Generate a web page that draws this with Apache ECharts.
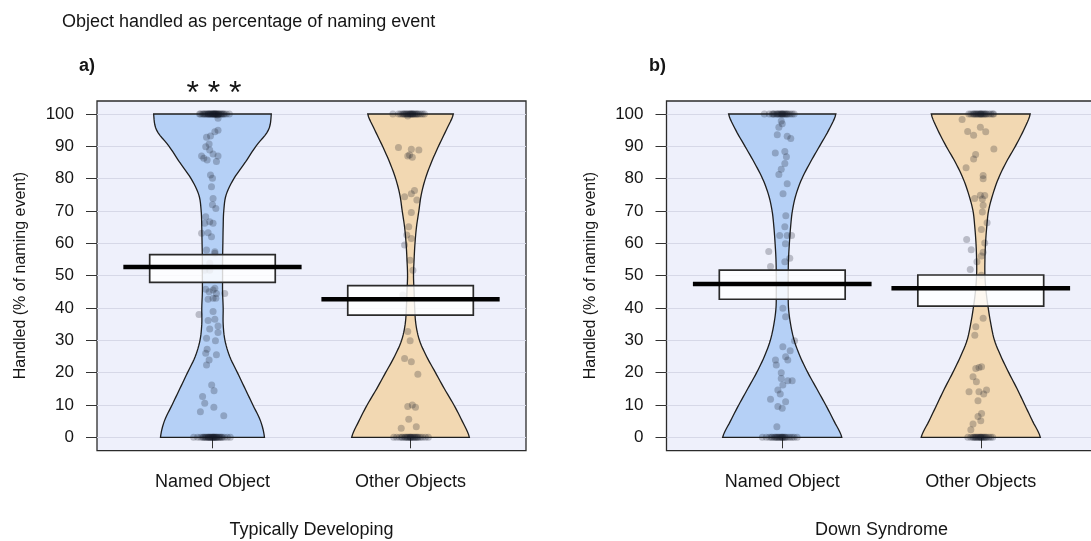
<!DOCTYPE html>
<html>
<head>
<meta charset="utf-8">
<title>Object handled as percentage of naming event</title>
<script src="https://cdn.jsdelivr.net/npm/echarts@6/dist/echarts.min.js"></script>
<style>
  html, body { margin: 0; padding: 0; background: #ffffff; }
  #chart { width: 1091px; height: 541px; }
</style>
</head>
<body>
<div id="chart"></div>
<script>
// ---- data ----------------------------------------------------------------
const categories = ['Named Object', 'Other Objects'];
const categoryPositions = [1, 2];
const groupNames = ['Typically Developing', 'Down Syndrome'];
const panelTags = ['a)', 'b)'];
const significance = '* * *';
const yTicks = [0, 10, 20, 30, 40, 50, 60, 70, 80, 90, 100];

// bean density profiles (1 = widest point), sampled every 5 percentage points
const densityLevels = [0, 5, 10, 15, 20, 25, 30, 35, 40, 45, 50, 55, 60, 65, 70, 75, 80, 85, 90, 95, 100];
const tdNamedDensity = [0.875, 0.81, 0.68, 0.55, 0.42, 0.29, 0.21, 0.18, 0.18, 0.17, 0.17, 0.17, 0.175, 0.18, 0.19, 0.23, 0.36, 0.55, 0.73, 0.94, 0.99];
const tdOtherDensity = [0.99, 0.87, 0.73, 0.57, 0.42, 0.27, 0.15, 0.09, 0.07, 0.06, 0.05, 0.06, 0.075, 0.10, 0.14, 0.18, 0.25, 0.35, 0.47, 0.60, 0.72];
const dsNamedDensity = [1.0, 0.87, 0.73, 0.58, 0.43, 0.30, 0.20, 0.14, 0.105, 0.10, 0.10, 0.105, 0.12, 0.14, 0.17, 0.23, 0.33, 0.47, 0.625, 0.78, 0.90];
const dsOtherDensity = [1.0, 0.87, 0.74, 0.61, 0.47, 0.34, 0.23, 0.17, 0.125, 0.09, 0.07, 0.07, 0.08, 0.10, 0.13, 0.20, 0.295, 0.425, 0.58, 0.72, 0.83];

// means and 95% inference bands [lower, upper]
const tdNamedMean = 52.7, tdNamedBand = [47.9, 56.5];
const tdOtherMean = 42.7, tdOtherBand = [37.8, 46.9];
const dsNamedMean = 47.4, dsNamedBand = [42.7, 51.7];
const dsOtherMean = 46.1, dsOtherBand = [40.6, 50.2];

// individual children: [percentage handled, horizontal jitter]
const tdNamedPoints = [
  [99.7, 0.025], [98.7, 0.028], [95, 0.028], [94.5, 0.012], [92.8, -0.03], [93.2, -0.01], [90.7, -0.017],
  [89.9, -0.034], [88.9, -0.014], [87, -0.055], [86.3, -0.044], [85.8, -0.027], [87.6, 0.003], [87, 0.028],
  [85.3, 0.02], [81.1, -0.01], [80.1, 0], [77.5, -0.005], [73.9, 0.003], [71.9, 0], [70.8, 0.017],
  [68.2, -0.034], [66.7, -0.014], [66.2, -0.039], [66.2, 0.003], [63.1, -0.055], [63.3, -0.022], [62, -0.005],
  [57.9, -0.03], [57.4, 0.012], [56.9, 0.012], [53.8, -0.014], [51.7, -0.039], [51.7, -0.014], [46.1, 0.012],
  [45.8, -0.034], [45.6, 0.003], [45, -0.017], [44.5, 0.02], [44.5, 0.062], [43, 0.003], [42.7, -0.022],
  [43, 0.017], [38.9, 0.003], [38, -0.068], [36.1, -0.022], [36.5, 0.012], [34.4, 0.028], [33.5, -0.014],
  [32.4, 0.028], [30.6, -0.03], [29.9, 0.015], [27.2, -0.027], [26, -0.034], [25.5, 0.02], [23.9, -0.017],
  [22.4, -0.03], [16.2, -0.004], [14.4, 0.008], [12.6, -0.05], [10.5, -0.039], [9.3, 0.007], [7.9, -0.061],
  [6.7, 0.057]
];
const tdOtherPoints = [
  [99.4, -0.014], [89.6, -0.061], [89.1, 0.004], [88.9, 0.042], [87.3, -0.005], [86.6, 0.009], [87, -0.014],
  [76.3, 0.02], [75.3, 0.004], [74.4, -0.03], [73.4, 0.032], [69.5, 0.004], [65.1, -0.009], [62.6, -0.019],
  [61.5, 0.004], [59.5, -0.03], [54.8, -0.002], [51.7, 0.012], [44, -0.039], [32.7, -0.014], [29.9, -0.002],
  [24.4, -0.03], [23.4, 0.004], [19.5, 0.037], [9.5, -0.014], [10, 0.009], [9.3, 0.025], [5.6, -0.009],
  [2.8, -0.047], [3.3, 0.029]
];
const dsNamedPoints = [
  [97.8, -0.005], [97, 0], [95.9, -0.017], [93.6, -0.025], [93.1, 0.025], [92.4, 0.043], [87.9, -0.035],
  [88.4, 0.013], [86.8, 0.021], [84.7, 0.013], [82.9, -0.005], [81.3, -0.017], [78.4, 0.025], [75.3, 0.004],
  [68.5, 0.018], [65.1, 0.013], [62.4, -0.013], [62.4, 0.025], [62.4, 0.047], [59.9, 0.016], [57.5, -0.068],
  [55.4, 0.038], [54.3, 0.013], [52.8, -0.059], [39.9, 0.003], [37.3, 0.017], [29.9, 0.062], [28, 0.003],
  [26.8, 0.04], [24.9, 0.017], [23.9, 0.028], [23.9, -0.034], [22.4, -0.03], [20, -0.005], [17.5, 0.028],
  [17.5, 0.05], [18.2, -0.005], [16.2, 0.003], [14.6, -0.022], [13.4, -0.01], [11.8, -0.059], [11, 0.017],
  [9.5, -0.022], [9, 0], [3.3, -0.027]
];
const dsOtherPoints = [
  [98.3, -0.094], [94.6, -0.066], [93.4, -0.036], [95.9, -0.002], [94.5, 0.025], [89.2, 0.066], [87.5, -0.026],
  [86.1, -0.036], [83.4, -0.074], [81, 0.012], [80, 0.012], [73.9, -0.031], [74.9, -0.002], [74.8, 0.02],
  [73.7, 0.008], [71.8, 0.012], [69.7, 0.008], [66.4, 0.032], [64.3, 0.003], [61.2, -0.071], [60.1, 0.02],
  [58, -0.048], [57.2, 0.012], [56.1, 0.003], [54.3, -0.019], [51.9, -0.053], [50.1, 0.003], [36.8, 0.012],
  [34.2, -0.025], [31.6, -0.03], [21.3, -0.025], [21.6, -0.009], [21.8, 0.004], [18.7, -0.039], [17.2, -0.022],
  [14.1, -0.059], [14.1, -0.009], [14.6, 0.029], [13.4, 0.015], [11.3, -0.014], [7.4, 0.004], [6.4, -0.014],
  [5.1, 0], [4.1, -0.039], [2.3, -0.05]
];

// children at exactly 100% and 0%: horizontal jitter of each
const tdNamedAt100 = [-0.065, -0.06, -0.05, -0.045, -0.04, -0.035, -0.03, -0.025, -0.02, -0.02, -0.015, -0.01, -0.01, -0.005, 0, 0, 0.005, 0.005, 0.01, 0.01, 0.015, 0.015, 0.02, 0.02, 0.025, 0.03, 0.03, 0.035, 0.04, 0.045, 0.05, 0.055, 0.06, 0.07, 0.085];
const tdNamedAt0 = [-0.095, -0.075, -0.06, -0.05, -0.045, -0.04, -0.035, -0.03, -0.025, -0.02, -0.02, -0.015, -0.01, -0.01, -0.005, 0, 0, 0.005, 0.005, 0.01, 0.01, 0.015, 0.02, 0.02, 0.025, 0.03, 0.035, 0.04, 0.045, 0.05, 0.06, 0.075, 0.09];
const tdOtherAt100 = [-0.089, -0.06, -0.05, -0.04, -0.035, -0.03, -0.025, -0.02, -0.015, -0.01, -0.005, 0, 0, 0.005, 0.01, 0.01, 0.015, 0.02, 0.025, 0.03, 0.035, 0.04, 0.05, 0.06, 0.07];
const tdOtherAt0 = [-0.085, -0.07, -0.055, -0.045, -0.04, -0.03, -0.025, -0.02, -0.015, -0.01, -0.005, 0, 0, 0.005, 0.01, 0.015, 0.02, 0.025, 0.03, 0.035, 0.04, 0.05, 0.06, 0.075, 0.09];
const dsNamedAt100 = [-0.09, -0.065, -0.05, -0.045, -0.04, -0.03, -0.025, -0.02, -0.015, -0.01, -0.005, 0, 0, 0.005, 0.01, 0.015, 0.02, 0.025, 0.03, 0.04, 0.05, 0.06];
const dsNamedAt0 = [-0.1, -0.08, -0.065, -0.055, -0.05, -0.04, -0.035, -0.03, -0.025, -0.02, -0.015, -0.01, -0.005, 0, 0, 0.005, 0.01, 0.015, 0.02, 0.03, 0.04, 0.05, 0.06, 0.075];
const dsOtherAt100 = [-0.06, -0.05, -0.04, -0.035, -0.03, -0.025, -0.02, -0.015, -0.01, -0.005, 0, 0, 0.005, 0.01, 0.015, 0.02, 0.025, 0.03, 0.04, 0.05, 0.06, 0.065];
const dsOtherAt0 = [-0.065, -0.05, -0.04, -0.035, -0.03, -0.025, -0.02, -0.015, -0.01, -0.005, 0, 0, 0.005, 0.01, 0.015, 0.02, 0.025, 0.03, 0.04, 0.05, 0.06];

// ---- assembly --------------------------------------------------------------
function bean(density, points, at100, at0, mean, band) {
  return {
    density: density,
    points: points.concat(at100.map(j => [100, j]), at0.map(j => [0, j])),
    mean: mean,
    band: band
  };
}
const panels = [
  [bean(tdNamedDensity, tdNamedPoints, tdNamedAt100, tdNamedAt0, tdNamedMean, tdNamedBand),
   bean(tdOtherDensity, tdOtherPoints, tdOtherAt100, tdOtherAt0, tdOtherMean, tdOtherBand)],
  [bean(dsNamedDensity, dsNamedPoints, dsNamedAt100, dsNamedAt0, dsNamedMean, dsNamedBand),
   bean(dsOtherDensity, dsOtherPoints, dsOtherAt100, dsOtherAt0, dsOtherMean, dsOtherBand)]
];

// ---- styling / layout --------------------------------------------------------
const FONT = 'Liberation Sans, Arial, Helvetica, sans-serif';
const TEXT = '#151515';
const beanColors = ['#b5d0f6', '#f2d8b2'];
const BEAN_HALF = 0.3;     // widest half-width of a bean, x units
const BAND_HALF = 0.317;   // half-width of inference band
const MEAN_HALF = 0.45;    // half-width of mean line
const X_MIN = 0.417, X_MAX = 2.583;
const frames = [
  { left: 97, top: 101, width: 429, height: 349.7 },
  { left: 666.5, top: 101, width: 430, height: 349.7 }
];
const PLOT_TOP = 114, PLOT_HEIGHT = 323.3;
const nameGaps = [68, 68];

// Catmull-Rom resampling of a density profile
function smoothProfile(levels, dens, steps) {
  const out = [];
  const n = levels.length;
  for (let i = 0; i < n - 1; i++) {
    const p0 = dens[Math.max(i - 1, 0)], p1 = dens[i], p2 = dens[i + 1], p3 = dens[Math.min(i + 2, n - 1)];
    for (let s = 0; s < steps; s++) {
      const u = s / steps;
      const d = 0.5 * (2 * p1 + (-p0 + p2) * u + (2 * p0 - 5 * p1 + 4 * p2 - p3) * u * u +
        (-p0 + 3 * p1 - 3 * p2 + p3) * u * u * u);
      out.push([levels[i] + (levels[i + 1] - levels[i]) * u, Math.max(d, 0.01)]);
    }
  }
  out.push([levels[n - 1], dens[n - 1]]);
  return out;
}

const grid = [], xAxis = [], yAxis = [], series = [];
frames.forEach((f, p) => {
  // outer plot box
  grid.push({ left: f.left, top: f.top, width: f.width, height: f.height, show: true, outerBoundsMode: 'none',
    backgroundColor: '#eef0fb', borderColor: '#2b2b2b', borderWidth: 1.3, z: 0 });
  xAxis.push({ gridIndex: 2 * p, type: 'value', show: false, min: 0, max: 1 });
  yAxis.push({ gridIndex: 2 * p, type: 'value', show: false, min: 0, max: 1 });
  // data region (0..100)
  grid.push({ left: f.left, top: PLOT_TOP, width: f.width, height: PLOT_HEIGHT, show: false, outerBoundsMode: 'none' });
  xAxis.push({
    gridIndex: 2 * p + 1, type: 'value', min: X_MIN, max: X_MAX, offset: f.top + f.height - PLOT_TOP - PLOT_HEIGHT,
    axisLine: { show: false }, splitLine: { show: false },
    axisTick: { show: true, customValues: categoryPositions, length: 11, lineStyle: { color: '#333', width: 1 } },
    axisLabel: { customValues: categoryPositions, formatter: v => categories[categoryPositions.indexOf(Math.round(v))] || '',
      margin: 22, fontSize: 18, color: TEXT, fontFamily: FONT },
    name: groupNames[p], nameLocation: 'middle', nameGap: 70,
    nameTextStyle: { fontSize: 18, color: TEXT, fontFamily: FONT }
  });
  yAxis.push({
    gridIndex: 2 * p + 1, type: 'value', min: yTicks[0], max: yTicks[yTicks.length - 1], interval: yTicks[1] - yTicks[0],
    axisLine: { show: false },
    axisTick: { show: true, length: 11, lineStyle: { color: '#333', width: 1 } },
    axisLabel: { margin: 23, fontSize: 17, color: TEXT, fontFamily: FONT },
    splitLine: { show: true, lineStyle: { color: '#d6d8e7', width: 1 } },
    name: 'Handled (% of naming event)', nameLocation: 'middle', nameRotate: 90, nameGap: nameGaps[p],
    nameTextStyle: { fontSize: 16, color: TEXT, fontFamily: FONT },
    z: 1
  });

  const beans = panels[p];
  const xi = 2 * p + 1, yi = 2 * p + 1;

  // violin-shaped beans
  series.push({
    type: 'custom', xAxisIndex: xi, yAxisIndex: yi, z: 2, silent: true,
    data: beans.map((b, i) => [categoryPositions[i], 50]),
    renderItem: function (params, api) {
      const b = beans[params.dataIndex];
      const c = api.value(0);
      const prof = smoothProfile(densityLevels, b.density, 6);
      const leftSide = prof.map(([y, d]) => api.coord([c - d * BEAN_HALF, y]));
      const rightSide = prof.slice().reverse().map(([y, d]) => api.coord([c + d * BEAN_HALF, y]));
      return {
        type: 'polygon',
        shape: { points: leftSide.concat(rightSide) },
        style: { fill: beanColors[params.dataIndex], stroke: '#1e1e1e', lineWidth: 1.3 }
      };
    }
  });

  // individual children
  series.push({
    type: 'scatter', xAxisIndex: xi, yAxisIndex: yi, z: 3, silent: true, clip: false,
    symbolSize: 7,
    itemStyle: { color: 'rgba(20,24,38,0.3)' },
    data: beans.flatMap((b, i) => b.points.map(([v, j]) => [categoryPositions[i] + j, v]))
  });

  // inference band and mean
  series.push({
    type: 'custom', xAxisIndex: xi, yAxisIndex: yi, z: 4, silent: true,
    data: beans.map((b, i) => [categoryPositions[i], b.band[0], b.band[1], b.mean]),
    renderItem: function (params, api) {
      const c = api.value(0), lo = api.value(1), hi = api.value(2), m = api.value(3);
      const tl = api.coord([c - BAND_HALF, hi]);
      const br = api.coord([c + BAND_HALF, lo]);
      const ml = api.coord([c - MEAN_HALF, m]);
      const mr = api.coord([c + MEAN_HALF, m]);
      return {
        type: 'group',
        children: [
          { type: 'rect', shape: { x: tl[0], y: tl[1], width: br[0] - tl[0], height: br[1] - tl[1] },
            style: { fill: 'rgba(255,255,255,0.82)', stroke: '#2a2a2a', lineWidth: 1.7 } },
          { type: 'line', shape: { x1: ml[0], y1: ml[1], x2: mr[0], y2: mr[1] },
            style: { stroke: '#000', lineWidth: 4.5 } }
        ]
      };
    }
  });
});

const chart = echarts.init(document.getElementById('chart'), null, { renderer: 'canvas' });
chart.setOption({
  animation: false,
  backgroundColor: '#ffffff',
  textStyle: { fontFamily: FONT },
  title: {
    text: 'Object handled as percentage of naming event',
    left: 57, top: 8,
    textStyle: { fontSize: 18, fontWeight: 'normal', color: TEXT, fontFamily: FONT }
  },
  grid: grid, xAxis: xAxis, yAxis: yAxis, series: series,
  graphic: [
    { type: 'text', left: 79, top: 57, style: { text: panelTags[0], fill: TEXT, font: 'bold 18px ' + FONT } },
    { type: 'text', left: 649, top: 57, style: { text: panelTags[1], fill: TEXT, font: 'bold 18px ' + FONT } },
    { type: 'text', x: 214, y: 94, style: { text: significance, font: '32px ' + FONT, fill: TEXT, align: 'center', verticalAlign: 'middle' } }
  ]
});
</script>
</body>
</html>
